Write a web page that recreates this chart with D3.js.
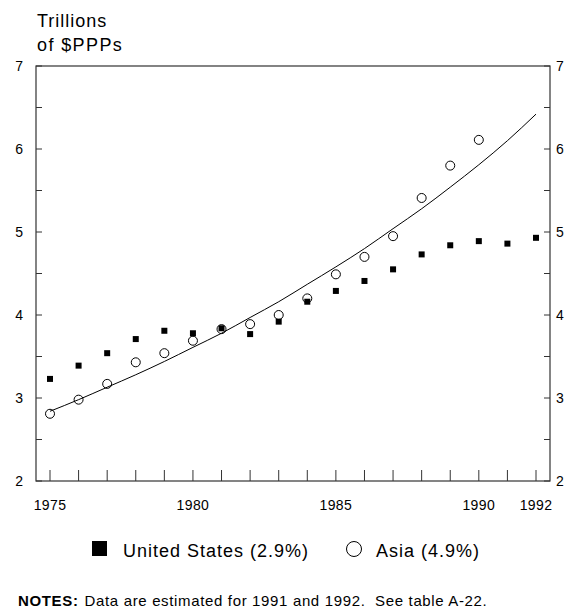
<!DOCTYPE html>
<html><head><meta charset="utf-8">
<script src="https://cdn.jsdelivr.net/npm/d3@7"></script>
<style>body{margin:0;background:#fff;}svg text{font-family:"Liberation Sans",Arial,sans-serif;}</style>
</head><body>
<script>
const years = [1975,1976,1977,1978,1979,1980,1981,1982,1983,1984,1985,1986,1987,1988,1989,1990,1991,1992];
const usValues = [3.23,3.39,3.54,3.71,3.81,3.78,3.84,3.77,3.92,4.16,4.29,4.41,4.55,4.73,4.84,4.89,4.86,4.93];
const asiaYears = [1975,1976,1977,1978,1979,1980,1981,1982,1983,1984,1985,1986,1987,1988,1989,1990];
const asiaValues = [2.81,2.98,3.17,3.43,3.54,3.69,3.83,3.89,4.00,4.20,4.49,4.70,4.95,5.41,5.80,6.11];
const trendValues = [2.84,2.98,3.13,3.28,3.44,3.61,3.78,3.97,4.16,4.37,4.58,4.80,5.04,5.28,5.54,5.81,6.10,6.42];
const xTickLabels = [1975,1980,1985,1990,1992];
const yTicks = [2,3,4,5,6,7];
const yMinorTicks = [2.5,3.5,4.5,5.5,6.5];

(function(){
const W=569,H=614;
const svg=d3.select("body").append("svg").attr("width",W).attr("height",H);
const pL=36,pR=550,pT=66,pB=481;
const x=d3.scaleLinear().domain([1975,1992]).range([50,536]);
const y=d3.scaleLinear().domain([2,7]).range([pB,pT]);
const ink="#000";

svg.append("rect").attr("x",pL).attr("y",pT).attr("width",pR-pL).attr("height",pB-pT)
  .attr("fill","none").attr("stroke","#333").attr("stroke-width",1.2);

years.forEach(yr=>{
  svg.append("line").attr("x1",x(yr)).attr("x2",x(yr)).attr("y1",pB).attr("y2",pB-11).attr("stroke","#333").attr("stroke-width",1);
});
xTickLabels.forEach(yr=>{
  svg.append("text").attr("x",x(yr)).attr("y",510).attr("text-anchor","middle").attr("font-size",14).attr("letter-spacing",0.4).text(yr);
});
yTicks.concat(yMinorTicks).forEach(v=>{
  svg.append("line").attr("x1",pL).attr("x2",pL+6).attr("y1",y(v)).attr("y2",y(v)).attr("stroke","#333");
  svg.append("line").attr("x1",pR).attr("x2",pR-6).attr("y1",y(v)).attr("y2",y(v)).attr("stroke","#333");
});
yTicks.forEach(v=>{
  svg.append("text").attr("x",23).attr("y",y(v)+5).attr("text-anchor","end").attr("font-size",14).text(v);
  svg.append("text").attr("x",556).attr("y",y(v)+5).attr("text-anchor","start").attr("font-size",14).text(v);
});

svg.append("text").attr("x",37).attr("y",27).attr("font-size",18).attr("letter-spacing",1).text("Trillions");
svg.append("text").attr("x",37).attr("y",51).attr("font-size",18).attr("letter-spacing",1.4).text("of $PPPs");

const line=d3.line().x((d,i)=>x(years[i])).y(d=>y(d)).curve(d3.curveMonotoneX);
svg.append("path").datum(trendValues).attr("d",line).attr("fill","none").attr("stroke",ink).attr("stroke-width",1);

svg.selectAll("rect.us").data(usValues).enter().append("rect").attr("class","us")
  .attr("x",(d,i)=>x(years[i])-3).attr("y",d=>y(d)-3).attr("width",6).attr("height",6).attr("fill",ink);
svg.selectAll("circle.asia").data(asiaValues).enter().append("circle").attr("class","asia")
  .attr("cx",(d,i)=>x(asiaYears[i])).attr("cy",d=>y(d)).attr("r",4.5)
  .attr("fill","none").attr("stroke",ink).attr("stroke-width",1);

svg.append("rect").attr("x",92).attr("y",541).attr("width",15).attr("height",15).attr("fill",ink);
svg.append("text").attr("x",123).attr("y",557).attr("font-size",18).attr("letter-spacing",1).text("United States (2.9%)");
svg.append("circle").attr("cx",354).attr("cy",549).attr("r",7.5).attr("fill","none").attr("stroke",ink).attr("stroke-width",1);
svg.append("text").attr("x",376).attr("y",557).attr("font-size",18).attr("letter-spacing",1).text("Asia (4.9%)");

const n=svg.append("text").attr("x",18).attr("y",606).attr("font-size",15).attr("letter-spacing",0.65).attr("xml:space","preserve");
n.append("tspan").attr("font-weight","bold").text("NOTES:");
n.append("tspan").attr("dx",6).text("Data are estimated for 1991 and 1992.  See table A-22.");
})();
</script>
</body></html>
